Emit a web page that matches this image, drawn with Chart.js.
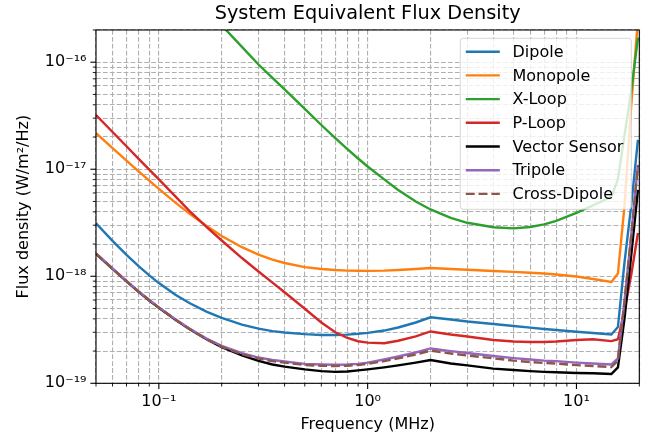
<!DOCTYPE html>
<html lang="en">
<head>
    <meta charset="UTF-8">
    <title>System Equivalent Flux Density</title>
    <script src="https://cdn.jsdelivr.net/npm/chart.js"></script>
    <style>
        body { margin: 0; background: #ffffff; }
        #wrap { width: 651px; height: 441px; }
    </style>
</head>
<body>
    <div id="wrap"><canvas id="sefd" width="651" height="441"></canvas></div>

    <script>
        // Frequency samples (MHz)
        const freqs = [0.05, 0.06, 0.07, 0.08, 0.09, 0.1, 0.12, 0.14, 0.17, 0.2,
                       0.25, 0.3, 0.35, 0.4, 0.5, 0.6, 0.7, 0.8, 0.9, 1.0,
                       1.2, 1.4, 1.7, 2.0, 2.5, 3, 4, 5, 6, 7,
                       8, 10, 12, 14.7, 15.8, 17, 18.3, 19.7];

        // SEFD per antenna type (W/m^2/Hz)
        const dipole = [3.13e-18, 2.14e-18, 1.585e-18, 1.243e-18, 1.02e-18, 8.64e-19, 6.73e-19, 5.63e-19, 4.65e-19, 4.09e-19,
                        3.54e-19, 3.24e-19, 3.07e-19, 2.98e-19, 2.88e-19, 2.83e-19, 2.83e-19, 2.85e-19, 2.90e-19, 2.96e-19,
                        3.11e-19, 3.32e-19, 3.70e-19, 4.14e-19, 3.95e-19, 3.78e-19, 3.58e-19, 3.43e-19, 3.31e-19, 3.22e-19,
                        3.15e-19, 3.03e-19, 2.95e-19, 2.86e-19, 3.36e-19, 1.36e-18, 4.6e-18, 1.88e-17];
        const monopole = [2.17e-17, 1.575e-17, 1.203e-17, 9.56e-18, 7.84e-18, 6.56e-18, 4.87e-18, 3.85e-18, 2.93e-18, 2.38e-18,
                          1.87e-18, 1.595e-18, 1.433e-18, 1.33e-18, 1.219e-18, 1.168e-18, 1.143e-18, 1.13e-18, 1.125e-18, 1.123e-18,
                          1.13e-18, 1.146e-18, 1.17e-18, 1.196e-18, 1.17e-18, 1.15e-18, 1.12e-18, 1.10e-18, 1.08e-18, 1.06e-18,
                          1.04e-18, 9.96e-19, 9.44e-19, 8.85e-19, 1.06e-18, 4.6e-18, 4.0e-17, 2.5e-16];
        const xLoop = [null, null, null, null, null, null, null, 4.69e-16, 3.11e-16, 2.21e-16,
                       1.39e-16, 9.52e-17, 7.13e-17, 5.57e-17, 3.67e-17, 2.59e-17, 1.95e-17, 1.54e-17, 1.26e-17, 1.06e-17,
                       8.04e-18, 6.40e-18, 5.00e-18, 4.21e-18, 3.51e-18, 3.16e-18, 2.87e-18, 2.80e-18, 2.89e-18, 3.05e-18,
                       3.29e-18, 3.91e-18, 4.59e-18, 5.51e-18, 8.1e-18, 2.1e-17, 5.4e-17, 1.7e-16];
        const pLoop = [3.21e-17, 2.23e-17, 1.64e-17, 1.25e-17, 9.93e-18, 8.05e-18, 5.58e-18, 4.08e-18, 2.86e-18, 2.16e-18,
                       1.48e-18, 1.109e-18, 8.73e-19, 7.09e-19, 4.97e-19, 3.70e-19, 3.0e-19, 2.65e-19, 2.47e-19, 2.40e-19,
                       2.37e-19, 2.50e-19, 2.74e-19, 3.05e-19, 2.86e-19, 2.74e-19, 2.54e-19, 2.46e-19, 2.43e-19, 2.43e-19,
                       2.46e-19, 2.54e-19, 2.58e-19, 2.48e-19, 2.58e-19, 4.84e-19, 1.03e-18, 2.54e-18];
        const vectorSensor = [1.62e-18, 1.17e-18, 8.95e-19, 7.16e-19, 5.94e-19, 5.07e-19, 3.92e-19, 3.22e-19, 2.57e-19, 2.18e-19,
                              1.82e-19, 1.62e-19, 1.50e-19, 1.43e-19, 1.35e-19, 1.30e-19, 1.28e-19, 1.29e-19, 1.32e-19, 1.35e-19,
                              1.41e-19, 1.47e-19, 1.56e-19, 1.65e-19, 1.53e-19, 1.47e-19, 1.37e-19, 1.33e-19, 1.30e-19, 1.28e-19,
                              1.27e-19, 1.25e-19, 1.24e-19, 1.22e-19, 1.41e-19, 4.07e-19, 1.58e-18, 6.4e-18];
        const tripole = [1.64e-18, 1.183e-18, 9.04e-19, 7.23e-19, 6.0e-19, 5.12e-19, 3.96e-19, 3.25e-19, 2.60e-19, 2.24e-19,
                         1.91e-19, 1.74e-19, 1.65e-19, 1.60e-19, 1.52e-19, 1.50e-19, 1.49e-19, 1.50e-19, 1.52e-19, 1.56e-19,
                         1.67e-19, 1.78e-19, 1.94e-19, 2.12e-19, 2.0e-19, 1.92e-19, 1.80e-19, 1.72e-19, 1.67e-19, 1.63e-19,
                         1.61e-19, 1.56e-19, 1.53e-19, 1.50e-19, 1.71e-19, 6.0e-19, 2.43e-18, 1.1e-17];
        const crossDipole = [1.63e-18, 1.177e-18, 8.99e-19, 7.19e-19, 5.97e-19, 5.09e-19, 3.93e-19, 3.22e-19, 2.56e-19, 2.20e-19,
                             1.87e-19, 1.70e-19, 1.61e-19, 1.56e-19, 1.48e-19, 1.46e-19, 1.45e-19, 1.46e-19, 1.48e-19, 1.52e-19,
                             1.61e-19, 1.71e-19, 1.86e-19, 2.02e-19, 1.90e-19, 1.82e-19, 1.71e-19, 1.63e-19, 1.58e-19, 1.55e-19,
                             1.53e-19, 1.48e-19, 1.45e-19, 1.42e-19, 1.63e-19, 5.8e-19, 2.4e-18, 1.08e-17];

        const labels = ['Dipole', 'Monopole', 'X-Loop', 'P-Loop', 'Vector Sensor', 'Tripole', 'Cross-Dipole'];
        const values = [dipole, monopole, xLoop, pLoop, vectorSensor, tripole, crossDipole];
        const colors = ['#1f77b4', '#ff7f0e', '#2ca02c', '#d62728', '#000000', '#9467bd', '#8c564b'];

        const FONT = '"DejaVu Sans", sans-serif';
        const SUP = { '-': '\u207B', '0': '\u2070', '1': '\u00B9', '2': '\u00B2', '3': '\u00B3', '4': '\u2074',
                      '5': '\u2075', '6': '\u2076', '7': '\u2077', '8': '\u2078', '9': '\u2079' };

        const isDecade = v => Math.abs(Math.log10(v) - Math.round(Math.log10(v))) < 1e-6;
        const decadeLabel = v => isDecade(v) ? '10' + String(Math.round(Math.log10(v))).split('').map(c => SUP[c]).join('') : '';

        // 1..9 x 10^e ticks inside [min, max]
        function logTicks(scale) {
            const out = [];
            for (let e = Math.floor(Math.log10(scale.min)); e <= Math.ceil(Math.log10(scale.max)); e++) {
                for (let k = 1; k <= 9; k++) {
                    const v = Number(k + 'e' + e);
                    if (v >= scale.min * 0.9999 && v <= scale.max * 1.0001) out.push({ value: v });
                }
            }
            scale.ticks = out;
        }

        // Frame, outward tick marks and the legend box inside the axes
        const axesDecor = {
            id: 'axesDecor',
            afterDatasetsDraw(chart) {
                const { ctx, chartArea: a, scales } = chart;
                ctx.save();
                ctx.strokeStyle = '#000';
                scales.x.ticks.forEach(t => {
                    const px = scales.x.getPixelForValue(t.value);
                    const major = isDecade(t.value);
                    ctx.lineWidth = major ? 1.1 : 0.9;
                    ctx.beginPath();
                    ctx.moveTo(px, a.bottom);
                    ctx.lineTo(px, a.bottom + (major ? 5.6 : 3.2));
                    ctx.stroke();
                });
                scales.y.ticks.forEach(t => {
                    const py = scales.y.getPixelForValue(t.value);
                    const major = isDecade(t.value);
                    ctx.lineWidth = major ? 1.1 : 0.9;
                    ctx.beginPath();
                    ctx.moveTo(a.left, py);
                    ctx.lineTo(a.left - (major ? 5.6 : 3.2), py);
                    ctx.stroke();
                });
                ctx.lineWidth = 1.1;
                ctx.strokeRect(a.left, a.top, a.right - a.left, a.bottom - a.top);

                // legend
                const w = 171, h = 171, r = 3;
                const bx = a.right - 8 - w, by = a.top + 8.3;
                ctx.beginPath();
                ctx.moveTo(bx + r, by);
                ctx.arcTo(bx + w, by, bx + w, by + h, r);
                ctx.arcTo(bx + w, by + h, bx, by + h, r);
                ctx.arcTo(bx, by + h, bx, by, r);
                ctx.arcTo(bx, by, bx + w, by, r);
                ctx.closePath();
                ctx.fillStyle = 'rgba(255,255,255,0.8)';
                ctx.fill();
                ctx.strokeStyle = 'rgba(204,204,204,0.8)';
                ctx.lineWidth = 1;
                ctx.stroke();

                ctx.font = '16px ' + FONT;
                ctx.textBaseline = 'middle';
                ctx.textAlign = 'left';
                chart.data.datasets.forEach((ds, i) => {
                    const ry = by + 13.4 + i * 23.7;
                    ctx.strokeStyle = ds.borderColor;
                    ctx.lineWidth = ds.borderWidth;
                    ctx.setLineDash(ds.borderDash || []);
                    ctx.beginPath();
                    ctx.moveTo(bx + 5.5, ry);
                    ctx.lineTo(bx + 39.5, ry);
                    ctx.stroke();
                    ctx.setLineDash([]);
                    ctx.fillStyle = '#000';
                    ctx.fillText(ds.label, bx + 52.2, ry + 1);
                });
                ctx.restore();
            }
        };

        const gridStyle = { color: '#b0b0b0', lineWidth: 1.1, drawTicks: false };
        const borderStyle = { display: false, dash: [4.8, 2.1] };

        new Chart(document.getElementById('sefd'), {
            type: 'line',
            data: {
                datasets: labels.map((name, i) => ({
                    label: name,
                    data: freqs.map((f, j) => ({ x: f, y: values[i][j] })),
                    borderColor: colors[i],
                    backgroundColor: colors[i],
                    borderWidth: 2.4,
                    borderDash: name === 'Cross-Dipole' ? [8.9, 3.9] : [],
                    pointRadius: 0,
                    tension: 0,
                    fill: false,
                    order: labels.length - 1 - i
                }))
            },
            options: {
                responsive: false,
                animation: false,
                layout: { padding: { top: 0, right: 11.7, bottom: 0, left: 0 } },
                plugins: {
                    legend: { display: false },
                    tooltip: { enabled: false },
                    title: {
                        display: true,
                        fullSize: false,
                        text: 'System Equivalent Flux Density',
                        color: '#000',
                        font: { family: FONT, size: 19.3, weight: 'normal' },
                        padding: { top: 2.8, bottom: 4.04 }
                    }
                },
                scales: {
                    x: {
                        type: 'logarithmic',
                        min: 0.05,
                        max: 20,
                        afterBuildTicks: logTicks,
                        afterFit: s => { s.height = 57.7; },
                        grid: gridStyle,
                        border: borderStyle,
                        ticks: {
                            autoSkip: false, maxRotation: 0, minRotation: 0, padding: 9.1,
                            color: '#000', font: { family: FONT, size: 16 },
                            callback: v => decadeLabel(v)
                        },
                        title: {
                            display: true, text: 'Frequency (MHz)', color: '#000',
                            font: { family: FONT, size: 16 }, padding: { top: 0, bottom: 6.5 }
                        }
                    },
                    y: {
                        type: 'logarithmic',
                        min: 1e-19,
                        max: 2e-16,
                        afterBuildTicks: logTicks,
                        afterFit: s => { s.width = 96; },
                        grid: gridStyle,
                        border: borderStyle,
                        ticks: {
                            autoSkip: false, padding: 9.5,
                            color: '#000', font: { family: FONT, size: 16 },
                            callback: v => decadeLabel(v)
                        },
                        title: {
                            display: true, text: 'Flux density (W/m\u00B2/Hz)', color: '#000',
                            font: { family: FONT, size: 16 }, padding: { top: 14.4, bottom: 0 }
                        }
                    }
                }
            },
            plugins: [axesDecor]
        });
    </script>
</body>
</html>
